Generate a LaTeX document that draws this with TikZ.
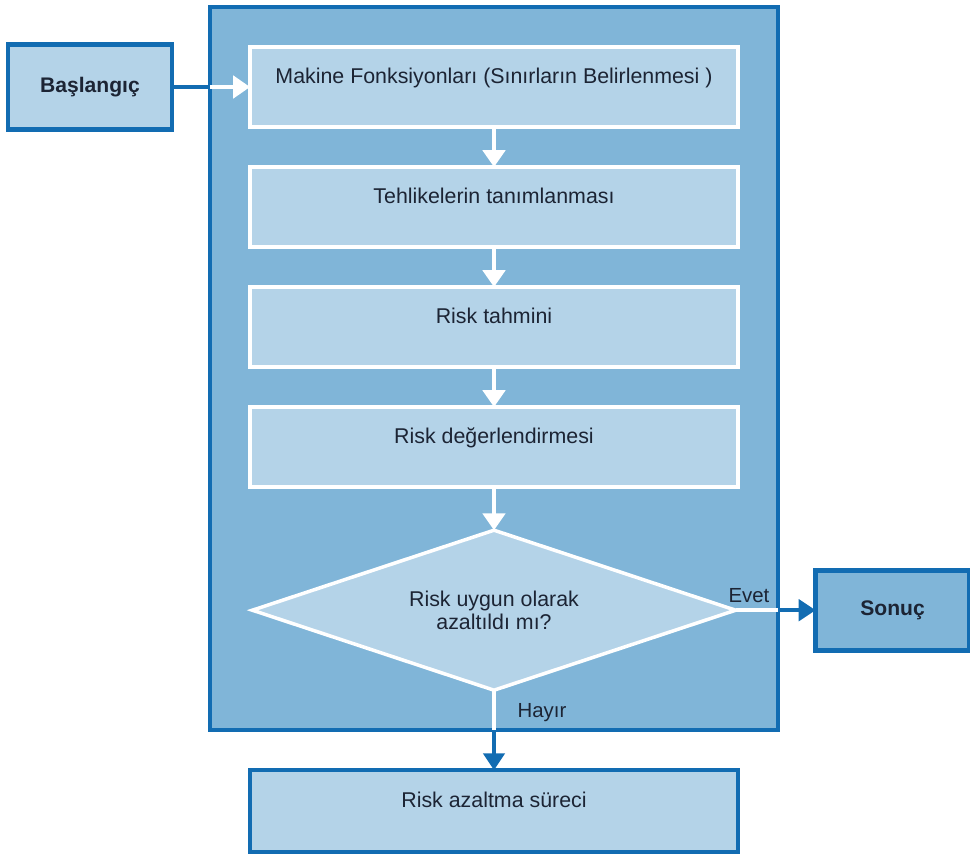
\documentclass[tikz,border=0pt]{standalone}
\usepackage{fontspec}
\setmainfont{Liberation Sans}
\usetikzlibrary{shapes.geometric,arrows.meta,positioning,fit,backgrounds}
\definecolor{frameBlue}{RGB}{18,108,178}
\definecolor{midBlue}{RGB}{128,181,216}
\definecolor{paleBlue}{RGB}{180,211,232}
\definecolor{inkDark}{RGB}{28,36,52}
\tikzset{
  stepbox/.style={draw=white,line width=3pt,fill=paleBlue,minimum width=12.2cm,minimum height=2cm,
                  inner sep=0pt,outer sep=0pt,text height=0.9cm,text depth=1.1cm,
                  font=\fontsize{15.2}{17}\selectfont,text=inkDark},
  endbox/.style={draw=frameBlue,line width=3.5pt,minimum height=2cm,inner sep=0pt,outer sep=0pt,
                 font=\fontsize{15}{17}\selectfont\bfseries,text=inkDark},
  ask/.style={diamond,draw=white,line width=2.5pt,fill=paleBlue,aspect=3,
              minimum width=12.08cm,minimum height=4cm,inner sep=0pt,outer sep=0pt,align=center,
              font=\fontsize{15.2}{16}\selectfont,text=inkDark},
  warr/.style={-{Triangle[width=16pt,length=12pt]},line width=2.5pt,white},
  barr/.style={-{Triangle[width=15pt,length=12pt]},line width=3pt,frameBlue},
  wline/.style={line width=2.5pt,white},
  bline/.style={line width=3pt,frameBlue},
  lbl/.style={font=\fontsize{14.5}{16}\selectfont,text=inkDark,inner sep=1pt},
}
\begin{document}
\begin{tikzpicture}[node distance=1cm]
  \useasboundingbox (0,0) rectangle (24.25,-21.475);
  \node[stepbox] (mak) at (12.35,-2.175) {Makine Fonksiyonları (Sınırların Belirlenmesi )};
  \node[stepbox,below=of mak] (teh) {Tehlikelerin tanımlanması};
  \node[stepbox,below=of teh] (tah) {Risk tahmini};
  \node[stepbox,below=of tah] (deg) {Risk değerlendirmesi};
  \node[ask,below=1.08cm of deg] (dia) {Risk uygun olarak\\azaltıldı mı?};
  \node[stepbox,draw=frameBlue,minimum height=2.05cm,below=2cm of dia] (red) {Risk azaltma süreci};
  \node[endbox,fill=paleBlue,minimum width=4.1cm,minimum height=2.125cm,left=1.95cm of mak] (bas) {Başlangıç};
  \node[endbox,fill=midBlue,minimum width=3.85cm,right=2cm of dia] (son) {Sonuç};
  \begin{scope}[on background layer]
    \node[draw=frameBlue,line width=3pt,fill=midBlue,fit=(mak)(dia),
          inner xsep=1cm,inner ysep=1cm,outer sep=0pt] (frame) {};
  \end{scope}
  \foreach \a/\b in {mak/teh,teh/tah,tah/deg,deg/dia}
    \draw[warr] (\a.south)--(\b.north);
  \draw[bline] (bas.east) -- (frame.west |- bas.east);
  \draw[warr] (frame.west |- bas.east) -- (mak.west);
  \draw[wline] (dia.east) -- (frame.east |- dia.east);
  \draw[barr] (frame.east |- dia.east) -- (son.west);
  \draw[wline] (dia.south) -- (frame.south -| dia.south);
  \draw[barr] (frame.south -| dia.south) -- (red.north);
  \node[lbl,anchor=south east] (evet) at ([xshift=-5pt,yshift=4pt]frame.east |- dia.east) {Evet};
  \node[lbl,anchor=west] (hayir) at ([xshift=0.55cm,yshift=-0.55cm]dia.south) {Hayır};
\end{tikzpicture}
\end{document}
